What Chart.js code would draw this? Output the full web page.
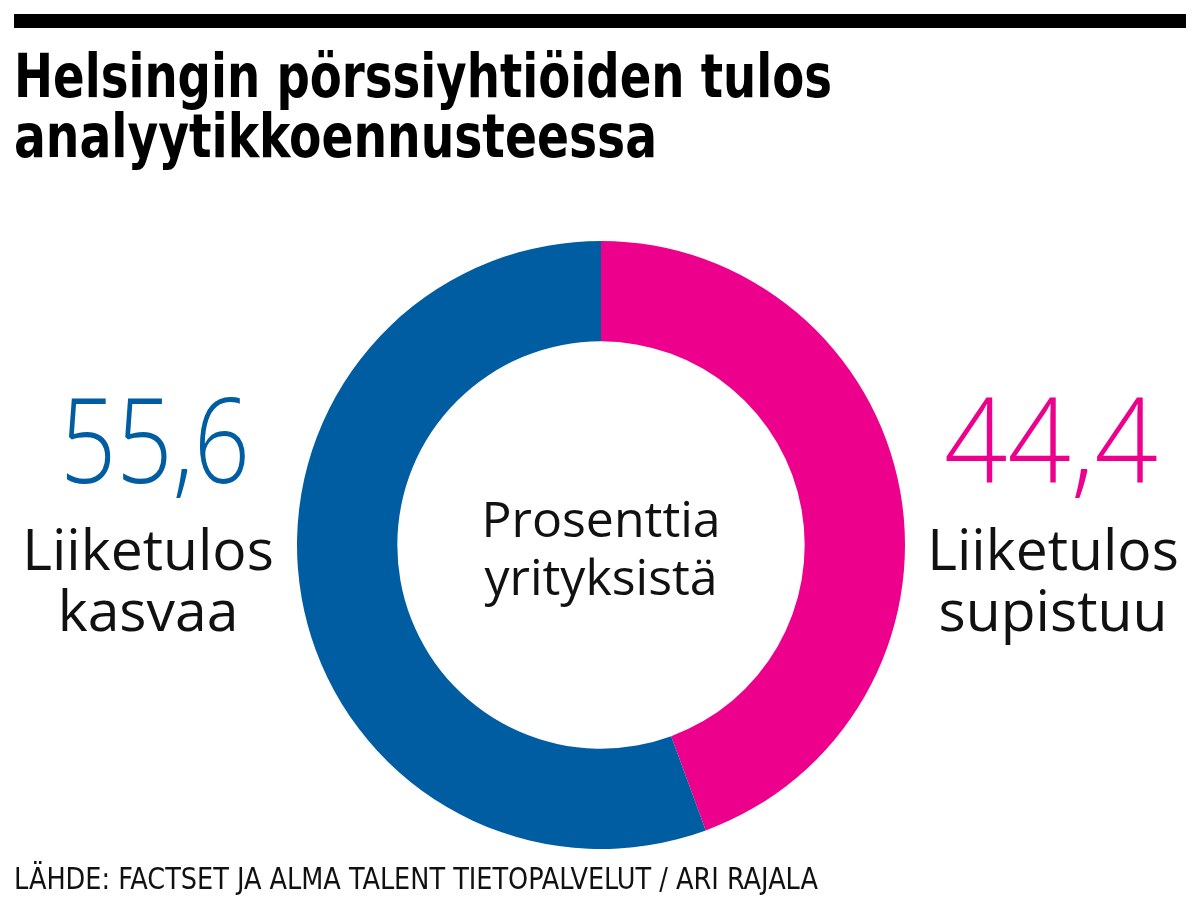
<!DOCTYPE html>
<html>
<head>
<meta charset="utf-8">
<script src="https://cdn.jsdelivr.net/npm/chart.js@4.4.1/dist/chart.umd.min.js"></script>
<style>
  html, body { margin: 0; padding: 0; background: #fff; }
  #chart { display: block; }
</style>
</head>
<body>
<canvas id="chart" width="1200" height="900"></canvas>
<script>
// DATA
const categories = ["Liiketulos supistuu", "Liiketulos kasvaa"];
const shares = [44.4, 55.6];
const colors = ["#ec008c", "#005da2"];

const TITLE = ["Helsingin pörssiyhtiöiden tulos", "analyytikkoennusteessa"];
const CENTER_TEXT = ["Prosenttia", "yrityksistä"];
const SOURCE = "LÄHDE: FACTSET JA ALMA TALENT TIETOPALVELUT / ARI RAJALA";

const NARROW = '"Liberation Sans Narrow", "DejaVu Sans Condensed", "Liberation Sans", sans-serif';
const LIGHT = '"Open Sans", Lato, sans-serif';

function fmt(v) {
  return v.toFixed(1).replace(".", ",");
}

// draw text squeezed to a given width (left edge x)
function fitText(ctx, text, x, y, width) {
  const w = ctx.measureText(text).width;
  ctx.save();
  ctx.translate(x, y);
  ctx.scale(width / w, 1);
  ctx.textAlign = "left";
  ctx.fillText(text, 0, 0);
  ctx.restore();
}

// text drawn on top of the doughnut
const textPlugin = {
  id: "texts",
  afterDraw(chart) {
    const ctx = chart.ctx;
    ctx.save();

    // top rule
    ctx.fillStyle = "#000";
    ctx.fillRect(14, 14, 1172, 14);

    // title
    ctx.textBaseline = "alphabetic";
    ctx.font = "bold 61px " + NARROW;
    fitText(ctx, TITLE[0], 14, 97, 818);
    fitText(ctx, TITLE[1], 14, 157, 643);

    // center
    const meta = chart.getDatasetMeta(0).data[0];
    const cx = meta.x, cy = meta.y;
    ctx.textAlign = "center";
    ctx.fillStyle = "#111";
    ctx.font = "400 50px " + LIGHT;
    ctx.fillText(CENTER_TEXT[0], cx, cy - 8);
    ctx.fillText(CENTER_TEXT[1], cx, cy + 50);

    // side labels: blue (kasvaa) left, pink (supistuu) right
    const sides = [
      { i: 1, x: 148, numLeft: 60, numW: 190, lines: ["Liiketulos", "kasvaa"] },
      { i: 0, x: 1053, numLeft: 944, numW: 214, lines: ["Liiketulos", "supistuu"] },
    ];
    sides.forEach((s) => {
      ctx.fillStyle = colors[s.i];
      ctx.font = "300 118px " + LIGHT;
      fitText(ctx, fmt(shares[s.i]), s.numLeft, 483, s.numW);
      ctx.fillStyle = "#111";
      ctx.font = "400 57px " + LIGHT;
      ctx.textAlign = "center";
      ctx.fillText(s.lines[0], s.x, 570);
      ctx.fillText(s.lines[1], s.x, 631);
    });

    // source
    ctx.fillStyle = "#111";
    ctx.font = "400 31px " + NARROW;
    fitText(ctx, SOURCE, 14, 889, 804);

    ctx.restore();
  },
};

new Chart(document.getElementById("chart"), {
  type: "doughnut",
  data: {
    labels: categories,
    datasets: [
      {
        data: shares,
        backgroundColor: colors,
        borderWidth: 0,
      },
    ],
  },
  options: {
    responsive: false,
    animation: false,
    cutout: "67%",
    rotation: 0,
    layout: { padding: { top: 241, bottom: 51, left: 297, right: 295 } },
    plugins: {
      legend: { display: false },
      tooltip: { enabled: false },
    },
  },
  plugins: [textPlugin],
});
</script>
</body>
</html>
